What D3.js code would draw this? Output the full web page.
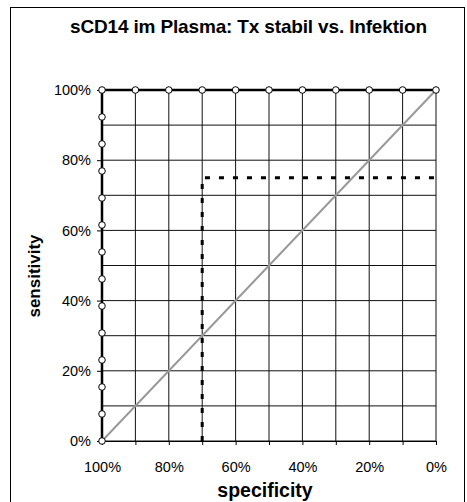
<!DOCTYPE html>
<html>
<head>
<meta charset="utf-8">
<script src="https://cdn.jsdelivr.net/npm/d3@7"></script>
<style>
  html, body { margin: 0; padding: 0; background: #fff; }
  svg { display: block; font-family: "Liberation Sans", Arial, sans-serif; }
</style>
</head>
<body>
<svg id="chart" width="467" height="502"></svg>
<script>
// ROC curve: sCD14 in plasma, stable transplant vs. infection
const title = "sCD14 im Plasma: Tx stabil vs. Infektion";
const xTitle = "specificity";
const yTitle = "sensitivity";

// ROC points (specificity, sensitivity) in %
const rocSpecificity = [100,100,100,100,100,100,100,100,100,100,100,100,100,100, 90,80,70,60,50,40,30,20,10,0];
const rocSensitivity = [0,7.69,15.38,23.08,30.77,38.46,46.15,53.85,61.54,69.23,76.92,84.62,92.31,100, 100,100,100,100,100,100,100,100,100,100];

// Cut-off guide (dotted): specificity 70%, sensitivity 75%
const cutSpecificity = [70, 70, 0];
const cutSensitivity = [0, 75, 75];

// Reference diagonal
const diagSpecificity = [100, 0];
const diagSensitivity = [0, 100];

const gridTicks = [0,10,20,30,40,50,60,70,80,90,100];
const labelTicks = [0,20,40,60,80,100];

const svg = d3.select("#chart");
const plotLeft = 102, plotRight = 436, plotTop = 90, plotBottom = 441;

const x = d3.scaleLinear().domain([100, 0]).range([plotLeft, plotRight]);
const y = d3.scaleLinear().domain([0, 100]).range([plotBottom, plotTop]);

// outer frame
svg.append("rect")
  .attr("x", 10.5).attr("y", 7.5)
  .attr("width", 454).attr("height", 500)
  .attr("fill", "none").attr("stroke", "#000").attr("stroke-width", 1);

// title
svg.append("text")
  .attr("x", 248.5).attr("y", 33)
  .attr("text-anchor", "middle")
  .attr("font-size", 19).attr("font-weight", "bold")
  .attr("textLength", 357).attr("lengthAdjust", "spacing")
  .text(title);

// grid
const grid = svg.append("g").attr("stroke", "#111").attr("stroke-width", 1);
grid.selectAll("line.v").data(gridTicks).join("line").attr("class", "v")
  .attr("x1", d => x(d)).attr("x2", d => x(d))
  .attr("y1", plotTop).attr("y2", plotBottom);
grid.selectAll("line.h").data(gridTicks).join("line").attr("class", "h")
  .attr("x1", plotLeft).attr("x2", plotRight)
  .attr("y1", d => y(d)).attr("y2", d => y(d));

// axes
const xAxis = d3.axisBottom(x).tickValues(gridTicks).tickSize(4)
  .tickFormat(d => labelTicks.includes(d) ? d + "%" : "");
const gx = svg.append("g").attr("transform", `translate(0,${plotBottom})`).call(xAxis);
gx.select(".domain").attr("stroke", "#000");
gx.selectAll("text").attr("font-size", 14.5).attr("font-family", "Liberation Sans, Arial, sans-serif")
  .attr("fill", "#000").attr("dy", "1.65em");

const yAxis = d3.axisLeft(y).tickValues(labelTicks).tickSize(5)
  .tickFormat(d => d + "%");
const gy = svg.append("g").attr("transform", `translate(${plotLeft},0)`).call(yAxis);
gy.select(".domain").attr("stroke", "#000");
gy.selectAll("text").attr("font-size", 14.5).attr("font-family", "Liberation Sans, Arial, sans-serif")
  .attr("fill", "#000").attr("x", -11);

// axis titles
svg.append("text")
  .attr("x", 265).attr("y", 497)
  .attr("text-anchor", "middle")
  .attr("font-size", 19.5).attr("font-weight", "bold")
  .text(xTitle);
svg.append("text")
  .attr("transform", `translate(40,276) rotate(-90)`)
  .attr("text-anchor", "middle")
  .attr("font-size", 17).attr("font-weight", "bold")
  .text(yTitle);

const line = d3.line().x(d => x(d[0])).y(d => y(d[1]));

// diagonal
svg.append("path")
  .datum(diagSpecificity.map((s, i) => [s, diagSensitivity[i]]))
  .attr("d", line).attr("fill", "none")
  .attr("stroke", "#999").attr("stroke-width", 2);

// cut-off guide
svg.append("path")
  .datum(cutSpecificity.map((s, i) => [s, cutSensitivity[i]]))
  .attr("d", line).attr("fill", "none")
  .attr("stroke", "#000").attr("stroke-width", 3)
  .attr("stroke-dasharray", "5,9");

// ROC curve
const roc = rocSpecificity.map((s, i) => [s, rocSensitivity[i]]);
svg.append("path")
  .datum(roc)
  .attr("d", line).attr("fill", "none")
  .attr("stroke", "#000").attr("stroke-width", 2.5);

svg.selectAll("circle.pt").data(roc).join("circle").attr("class", "pt")
  .attr("cx", d => x(d[0])).attr("cy", d => y(d[1]))
  .attr("r", 3.3)
  .attr("fill", "#fff").attr("stroke", "#000").attr("stroke-width", 1);
</script>
</body>
</html>
